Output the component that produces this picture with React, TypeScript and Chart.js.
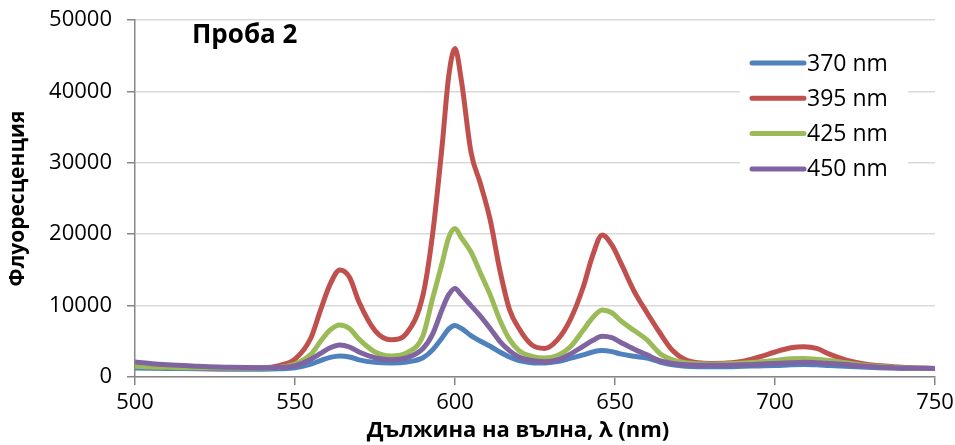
import React, { useEffect, useRef } from "react";
import { Chart, registerables } from "chart.js";

Chart.register(...registerables);

const wavelengths = [
  500, 510, 520, 530, 540, 545, 550, 555, 558, 561, 564, 567, 570, 575, 580, 585, 590, 593, 596, 598,
  600, 602, 605, 608, 611, 614, 617, 620, 624, 628, 632, 636, 640, 643, 646, 649, 652, 656, 660, 664,
  668, 672, 676, 680, 685, 690, 695, 700, 705, 709, 713, 717, 722, 727, 732, 737, 742, 750,
];

const s370 = [
  1250, 1200, 1150, 1100, 1100, 1150, 1300, 1800, 2300, 2750, 2950, 2800, 2400, 2050, 1950, 2100, 2700, 3800, 5500, 6700,
  7200, 6800, 5800, 5000, 4300, 3500, 2800, 2300, 2000, 1950, 2150, 2600, 3100, 3500, 3700, 3550, 3200, 2900, 2650, 2100,
  1700, 1500, 1450, 1450, 1450, 1500, 1550, 1600, 1700, 1750, 1700, 1600, 1500, 1400, 1300, 1250, 1200, 1200,
];

const s395 = [
  1500, 1400, 1300, 1250, 1300, 1600, 2500, 5500, 9400, 13000, 15000, 14000, 10500, 6500, 5200, 6200, 11500, 20000, 32500, 42000,
  46000, 41500, 31500, 27000, 22000, 15000, 9500, 6800, 4500, 4000, 5200, 8000, 12500, 17000, 19900, 18500, 15800, 12000, 9000, 6200,
  3700, 2400, 2000, 1900, 1950, 2200, 2800, 3500, 4100, 4250, 4000, 3200, 2400, 1900, 1600, 1450, 1300, 1200,
];

const s425 = [
  1500, 1350, 1300, 1250, 1250, 1350, 1800, 3200, 5000, 6600, 7300, 6800, 5300, 3500, 2950, 3400, 5800, 11000, 16000, 19500,
  20800, 19500, 17500, 14500, 11500, 8000, 5300, 3700, 2900, 2650, 3000, 4200, 6500, 8300, 9400, 9000, 7800, 6500, 5200, 3300,
  2400, 2000, 1850, 1800, 1850, 1950, 2100, 2300, 2550, 2600, 2500, 2300, 2000, 1700, 1500, 1350, 1250, 1200,
];

const s450 = [
  2100, 1700, 1500, 1350, 1300, 1350, 1600, 2500, 3300, 4100, 4480, 4200, 3500, 2700, 2400, 2700, 4000, 6000, 9500, 11500,
  12400, 11500, 10000, 8500, 6800, 5000, 3700, 2800, 2300, 2150, 2400, 3200, 4300, 5100, 5700, 5500, 4800, 3900, 3100, 2300,
  1900, 1700, 1650, 1650, 1650, 1700, 1800, 1900, 2000, 2050, 2000, 1900, 1750, 1550, 1400, 1300, 1250, 1200,
];

const seriesLabels = ["370 nm", "395 nm", "425 nm", "450 nm"];
const seriesColors = ["#4F81BD", "#C0504D", "#9BBB59", "#8064A2"];
const seriesValues = [s370, s395, s425, s450];

const chartTitle = "Проба 2";
const xTitle = "Дължина на вълна, λ (nm)";
const yTitle = "Флуоресценция";

const FONT = "'Open Sans', sans-serif";

const overlayPlugin = {
  id: "overlay",
  afterDraw(chart: any) {
    const { ctx, chartArea } = chart;
    ctx.save();
    // title inside plot
    ctx.fillStyle = "#000";
    ctx.font = `bold 26px ${FONT}`;
    ctx.textAlign = "left";
    ctx.textBaseline = "middle";
    ctx.fillText(chartTitle, chartArea.left + 57, chartArea.top + 16);

    // axis titles
    ctx.font = `bold 22px ${FONT}`;
    ctx.textAlign = "center";
    ctx.fillText(xTitle, (chartArea.left + chartArea.right) / 2 - 17, chartArea.bottom + 54);
    ctx.save();
    ctx.translate(18, (chartArea.top + chartArea.bottom) / 2);
    ctx.rotate(-Math.PI / 2);
    ctx.font = `bold 21px ${FONT}`;
    ctx.fillText(yTitle, 0, 0);
    ctx.restore();

    // legend inside plot
    const lx = chartArea.right - 185;
    const ly = chartArea.top + 43;
    const step = 35.3;
    ctx.fillStyle = "#fff";
    ctx.fillRect(lx - 10, ly - 18, 168, step * 4 + 4);
    seriesLabels.forEach((lab, i) => {
      const y = ly + i * step;
      ctx.strokeStyle = seriesColors[i];
      ctx.lineWidth = 5;
      ctx.lineCap = "round";
      ctx.beginPath();
      ctx.moveTo(lx + 2, y);
      ctx.lineTo(lx + 54, y);
      ctx.stroke();
      ctx.fillStyle = "#000";
      ctx.font = `23px ${FONT}`;
      ctx.textAlign = "left";
      ctx.textBaseline = "middle";
      ctx.fillText(lab, lx + 57, y + 1);
    });
    ctx.restore();
  },
};

export default function App() {
  const ref = useRef<HTMLCanvasElement | null>(null);
  useEffect(() => {
    document.body.style.margin = "0";
    if (!ref.current) return;
    const chart = new Chart(ref.current, {
      type: "line",
      data: {
        datasets: seriesLabels.map((lab, i) => ({
          label: lab,
          data: wavelengths.map((x, j) => ({ x, y: seriesValues[i][j] })),
          borderColor: seriesColors[i],
          backgroundColor: seriesColors[i],
          borderWidth: 5,
          pointRadius: 0,
          cubicInterpolationMode: "monotone" as const,
          fill: false,
          order: 4 - i,
        })),
      },
      options: {
        animation: false,
        responsive: false,
        devicePixelRatio: 1,
        layout: { padding: { top: 20, right: 20, left: 0, bottom: 0 } },
        plugins: { legend: { display: false }, tooltip: { enabled: false } },
        scales: {
          x: {
            type: "linear",
            min: 500,
            max: 750,
            ticks: { stepSize: 50, color: "#000", font: { family: FONT, size: 22 }, padding: 5, maxRotation: 0 },
            grid: { drawOnChartArea: false, drawTicks: true, tickLength: 8, tickColor: "#868686", lineWidth: 1.5 },
            border: { color: "#868686", width: 1.5 },
            title: { display: false },
            afterFit(scale: any) {
              scale.height = 68;
              scale.paddingLeft = 0;
              scale.paddingRight = 0;
            },
          },
          y: {
            min: 0,
            max: 50000,
            ticks: {
              stepSize: 10000,
              color: "#000",
              font: { family: FONT, size: 22 },
              padding: 15,
              callback: (v: any) => String(v),
            },
            grid: { color: "#D9D9D9", lineWidth: 1.5, drawTicks: true, tickLength: 8, tickColor: "#868686" },
            border: { color: "#868686", width: 1.5 },
            title: { display: false },
            afterFit(scale: any) {
              scale.width = 135;
              scale.paddingTop = 0;
              scale.paddingBottom = 0;
            },
          },
        },
      },
      plugins: [overlayPlugin],
    });
    return () => chart.destroy();
  }, []);
  return (
    <div style={{ width: 955, height: 445 }}>
      <canvas ref={ref} width={955} height={445} style={{ display: "block" }} />
    </div>
  );
}
